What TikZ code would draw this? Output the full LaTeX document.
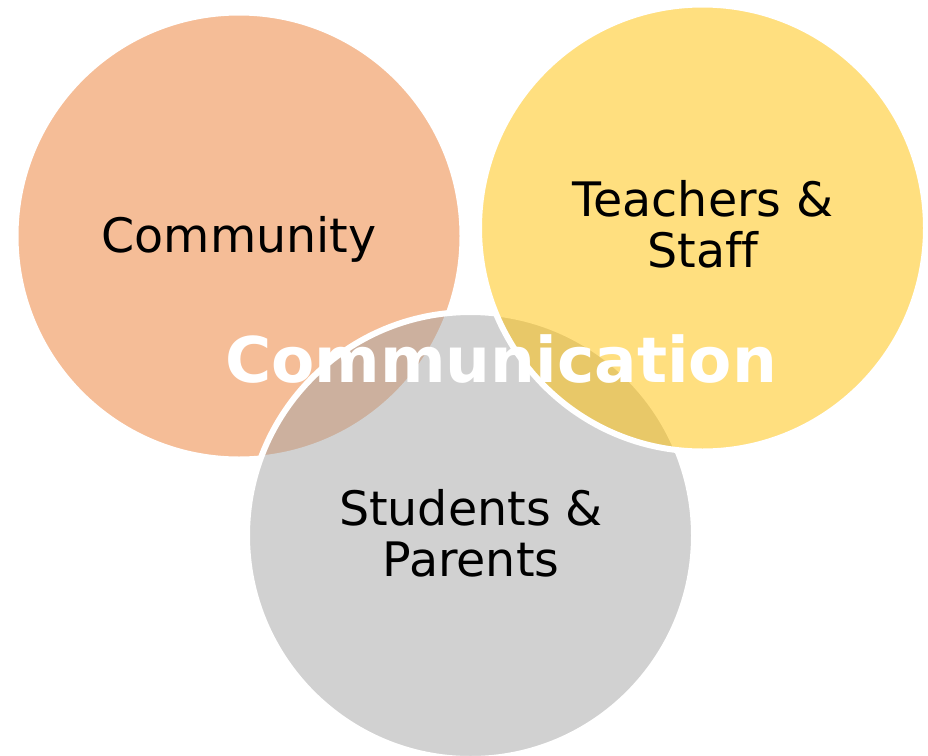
\documentclass[tikz,border=0pt]{standalone}
\usepackage{fontspec}
\setmainfont[Ligatures=NoCommon]{DejaVu Sans}
\definecolor{corange}{HTML}{ED7D31}
\definecolor{cyellow}{HTML}{FFC000}
\definecolor{cgray}{HTML}{A5A5A5}
\begin{document}
\begin{tikzpicture}[x=1pt,y=-1pt,
  venn/.style={draw=white,line width=6pt,fill opacity=0.5},
  lbl/.style={text=black,font=\fontsize{47.5}{51}\selectfont,align=center,inner sep=0pt},
  ttl/.style={text=white,font=\fontsize{63}{68}\selectfont\bfseries,inner sep=0pt}]
\useasboundingbox (0,0) rectangle (928,755);
\fill[white] (0,0) rectangle (928,755);
\path[venn,fill=corange] (239,236) circle (223.5);
\path[venn,fill=cgray] (470.5,535.5) circle (223.5);
\path[venn,fill=cyellow] (702.5,228) circle (223.5);
\node[lbl,anchor=base] (community) at (239,252) {Community};
\node[lbl,anchor=center] (teachers) at (703,224) {Teachers \&\\Staff};
\node[lbl,anchor=center] (students) at (471,533.5) {Students \&\\Parents};
\node[ttl,anchor=base] (comm) at (501,382) {Communication};
\end{tikzpicture}
\end{document}
